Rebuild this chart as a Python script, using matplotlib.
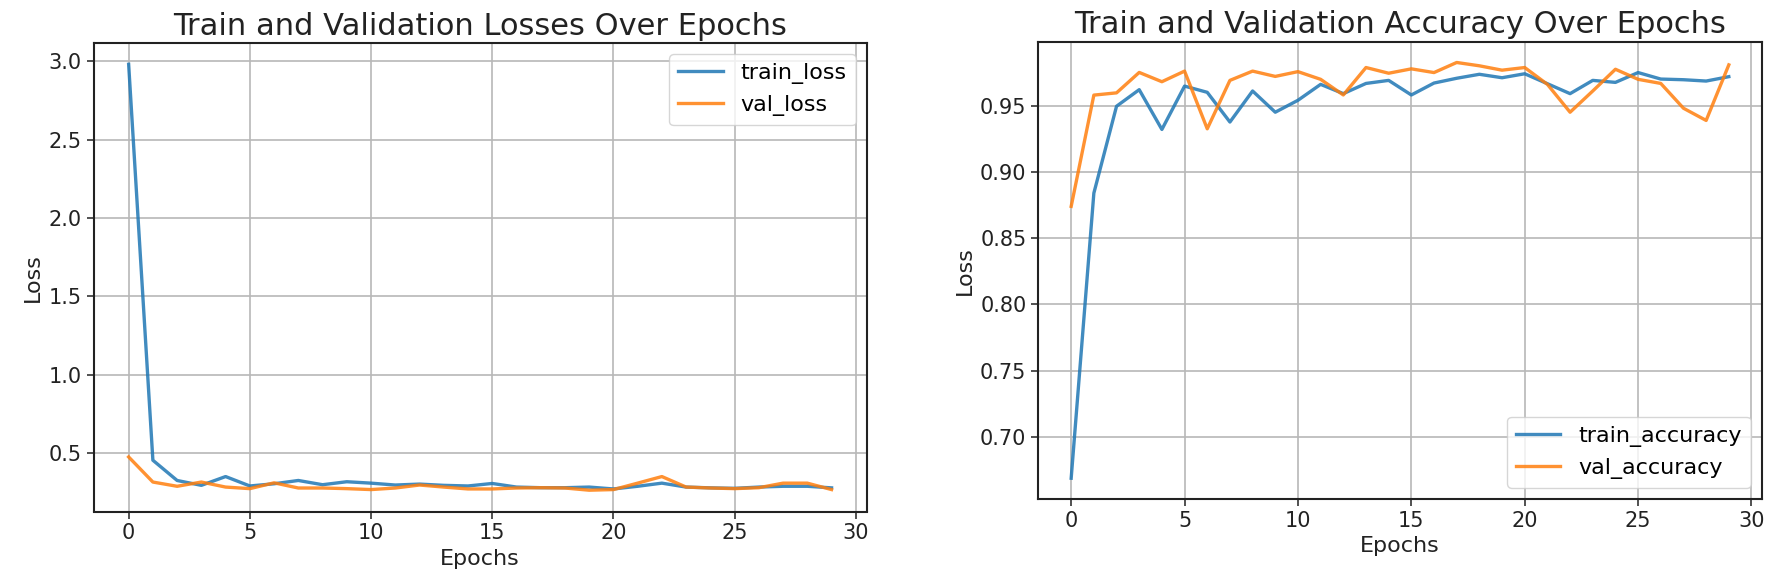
import matplotlib
matplotlib.use("Agg")
import matplotlib.pyplot as plt

epochs = list(range(30))

train_loss = [2.98, 0.456, 0.327, 0.296, 0.352, 0.292, 0.306, 0.327, 0.300, 0.319,
              0.310, 0.298, 0.304, 0.296, 0.292, 0.308, 0.285, 0.281, 0.281, 0.285,
              0.273, 0.290, 0.310, 0.285, 0.280, 0.277, 0.285, 0.290, 0.290, 0.280]
val_loss = [0.477, 0.317, 0.290, 0.317, 0.285, 0.275, 0.312, 0.279, 0.279, 0.275,
            0.269, 0.279, 0.298, 0.285, 0.273, 0.273, 0.279, 0.281, 0.279, 0.265,
            0.269, 0.310, 0.352, 0.285, 0.279, 0.275, 0.281, 0.310, 0.310, 0.269]

train_acc = [0.669, 0.884, 0.9495, 0.962, 0.932, 0.9647, 0.960, 0.9376, 0.961, 0.945,
             0.954, 0.966, 0.959, 0.9667, 0.969, 0.958, 0.967, 0.9706, 0.9736, 0.971,
             0.974, 0.9665, 0.959, 0.969, 0.9675, 0.9749, 0.970, 0.9695, 0.9685, 0.9718]
val_acc = [0.874, 0.9579, 0.9596, 0.975, 0.968, 0.976, 0.9325, 0.969, 0.976, 0.972,
           0.9756, 0.9698, 0.958, 0.9787, 0.9744, 0.9777, 0.9749, 0.9825, 0.980, 0.9767,
           0.9787, 0.966, 0.945, 0.961, 0.9774, 0.9698, 0.9667, 0.948, 0.9388, 0.9807]

W, H = 1772, 588
fig = plt.figure(figsize=(W / 100, H / 100), dpi=100)

# two panels placed by pixel boxes (left, top, right, bottom)
ax1 = fig.add_axes([93.5 / W, (H - 511.5) / H, (866.7 - 93.5) / W, (511.5 - 43) / H])
ax2 = fig.add_axes([1038.3 / W, (H - 499) / H, (1761.7 - 1038.3) / W, (499 - 41.7) / H])

lw = 2.4
blue = "#1f77b4"
orange = "#ff7f0e"
for ax in (ax1, ax2):
    ax.grid(color="#b8b8b8", linewidth=1.2)
    ax.set_axisbelow(True)
    ax.tick_params(labelsize=15, length=5, width=1.2, colors="#333333", labelcolor="#222222")
    for s in ax.spines.values():
        s.set_linewidth(1.5)
        s.set_color("#222222")

ax1.plot(epochs, train_loss, color=blue, alpha=0.85, linewidth=lw, label="train_loss")
ax1.plot(epochs, val_loss, color=orange, alpha=0.85, linewidth=lw, label="val_loss")
ax1.set_title("Train and Validation Losses Over Epochs", fontsize=22, color="#222222")
ax1.set_xlabel("Epochs", fontsize=16, color="#222222")
ax1.set_ylabel("Loss", fontsize=16, color="#222222")
ax1.set_xticks([0, 5, 10, 15, 20, 25, 30])
ax1.legend(loc="upper right", fontsize=16)

ax2.plot(epochs, train_acc, color=blue, alpha=0.85, linewidth=lw, label="train_accuracy")
ax2.plot(epochs, val_acc, color=orange, alpha=0.85, linewidth=lw, label="val_accuracy")
ax2.set_title("Train and Validation Accuracy Over Epochs", fontsize=22, color="#222222")
ax2.set_xlabel("Epochs", fontsize=16, color="#222222")
ax2.set_ylabel("Loss", fontsize=16, color="#222222")
ax2.set_xticks([0, 5, 10, 15, 20, 25, 30])
ax2.legend(loc="lower right", fontsize=16)

fig.savefig("out.png", dpi=100)
